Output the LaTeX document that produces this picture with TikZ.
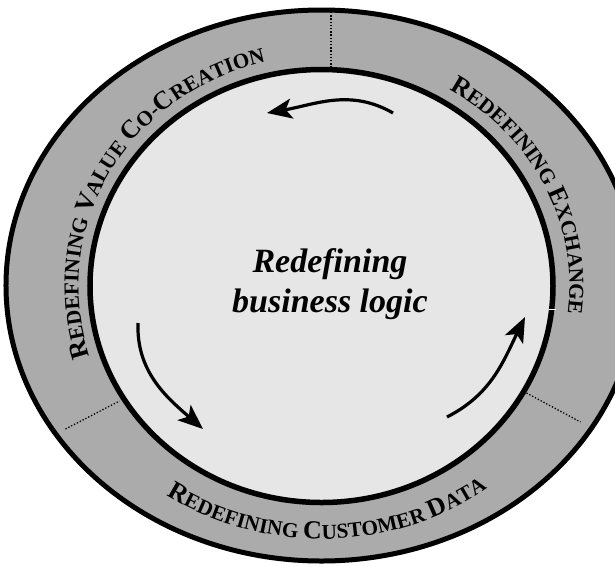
\documentclass[tikz,border=0pt]{standalone}
\usepackage{fontspec}
\setmainfont{Liberation Serif}
\usetikzlibrary{decorations.text,arrows.meta}
\definecolor{ringgray}{HTML}{ABABAB}
\definecolor{coregray}{HTML}{E6E6E6}
\newcommand\ringbig{\bfseries\fontsize{26}{26}\selectfont}
\newcommand\ringsmall{\bfseries\fontsize{21.2}{21.2}\selectfont}
\begin{document}
\begin{tikzpicture}[x=1pt,y=1pt,
  flow/.style={line width=3.2pt,-{Stealth[length=25pt,width=20pt,inset=6pt]}},
  sep/.style={line width=1.3pt,dash pattern=on 1.3pt off 1.9pt},
  rim/.style={line width=5pt}]
\useasboundingbox (-321.5,-280) rectangle (293.5,286);
% ring
\fill[ringgray] (0,0.5) ellipse[x radius=315.5,y radius=275.5];
% separators
\coordinate (s1a) at (9.5,274);
\coordinate (s1b) at (9.5,218);
\coordinate (s2a) at (-256,-143);
\coordinate (s2b) at (-202,-115);
\coordinate (s3a) at (205,-107);
\coordinate (s3b) at (259,-136);
\draw[sep] (s1a) -- (s1b);
\draw[sep] (s2a) -- (s2b);
\draw[sep] (s3a) -- (s3b);
% core
\filldraw[fill=coregray,draw=black,line width=5.5pt] (0,0) ellipse[x radius=231.5,y radius=216.5];
\draw[rim] (0,0.5) ellipse[x radius=315.5,y radius=275.5];
\coordinate (t1) at (227,-23);
\coordinate (t2) at (234,-23);
\draw[white,line width=1pt] (t1) -- (t2);
% ring labels
\path[decorate,decoration={text along path,text align=center,
  text={|\ringbig|R|\ringsmall|EDEFINING |\ringbig|V|\ringsmall|ALUE |\ringbig|C|\ringsmall|O-|\ringbig|C|\ringsmall|REATION}}]
  ({243*cos(221)},{230*sin(221)}) arc[start angle=221,end angle=81,x radius=243,y radius=230];
\path[decorate,decoration={text along path,text align=center,
  text={|\ringbig|R|\ringsmall|EDEFINING |\ringbig|E|\ringsmall|XCHANGE}}]
  ({248*cos(95)},{229*sin(95)}) arc[start angle=95,end angle=-45,x radius=248,y radius=229];
\path[decorate,decoration={text along path,text align=center,
  text={|\ringbig|R|\ringsmall|EDEFINING |\ringbig|C|\ringsmall|USTOMER |\ringbig|D|\ringsmall|ATA}}]
  ({276*cos(201.5)},{253*sin(201.5)}) arc[start angle=201.5,end angle=341.5,x radius=276,y radius=253];
% centre
\node[font=\bfseries\itshape\fontsize{34}{40}\selectfont,align=center] (logic) at (8.5,2) {Redefining\\business logic};
% arrows
\coordinate (a1s) at (71.5,173);
\coordinate (a1e) at (-54.5,173);
\coordinate (a2s) at (-183.5,-37);
\coordinate (a2e) at (-118.5,-143);
\coordinate (a3s) at (125.5,-131);
\coordinate (a3e) at (203.5,-31);
\draw[flow] (a1s) to[out=150,in=10] (a1e);
\draw[flow] (a2s) to[out=268,in=139] (a2e);
\draw[flow] (a3s) to[out=27,in=244] (a3e);
\end{tikzpicture}
\end{document}
